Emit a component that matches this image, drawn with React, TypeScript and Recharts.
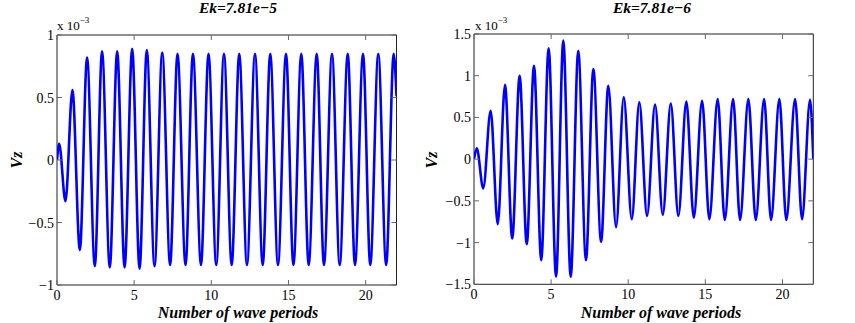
import { LineChart, Line, XAxis, YAxis, ReferenceArea } from 'recharts';

// extrema (units of 1e-3), start and end points included
const leftX = [
  0, 0.14, 0.55, 1.0, 1.48, 1.95, 2.45, 2.92, 3.42, 3.9, 4.38, 4.87, 5.35, 5.82, 6.32,
  6.82, 7.33, 7.81, 8.33, 8.81, 9.33, 9.82, 10.32, 10.82, 11.32, 11.81, 12.31, 12.83,
  13.33, 13.82, 14.32, 14.84, 15.32, 15.83, 16.31, 16.83, 17.3, 17.82, 18.32, 18.84,
  19.31, 19.83, 20.3, 20.82, 21.33, 21.82, 22,
];
const leftVz = [
  0, 0.13, -0.33, 0.56, -0.72, 0.82, -0.85, 0.87, -0.86, 0.87, -0.86, 0.89, -0.87, 0.88,
  -0.85, 0.86, -0.84, 0.85, -0.84, 0.85, -0.84, 0.85, -0.84, 0.85, -0.84, 0.85, -0.84,
  0.85, -0.84, 0.85, -0.84, 0.85, -0.84, 0.85, -0.84, 0.85, -0.84, 0.85, -0.84, 0.85,
  -0.84, 0.85, -0.84, 0.85, -0.84, 0.85, 0.51,
];

const rightX = [
  0, 0.18, 0.6, 1.08, 1.54, 2.01, 2.48, 2.96, 3.42, 3.89, 4.36, 4.84, 5.32, 5.79, 6.27,
  6.76, 7.26, 7.74, 8.24, 8.71, 9.21, 9.71, 10.23, 10.72, 11.22, 11.74, 12.24, 12.76,
  13.25, 13.77, 14.25, 14.79, 15.26, 15.8, 16.26, 16.8, 17.25, 17.79, 18.27, 18.81,
  19.26, 19.8, 20.25, 20.82, 21.27, 21.79, 22,
];
const rightVz = [
  0, 0.13, -0.35, 0.58, -0.78, 0.89, -0.95, 1.0, -1.02, 1.12, -1.21, 1.33, -1.41, 1.42,
  -1.41, 1.3, -1.21, 1.08, -0.99, 0.88, -0.815, 0.74, -0.72, 0.68, -0.68, 0.655, -0.665,
  0.665, -0.68, 0.69, -0.7, 0.7, -0.72, 0.72, -0.73, 0.72, -0.73, 0.72, -0.73, 0.72,
  -0.73, 0.72, -0.73, 0.72, -0.72, 0.71, 0.0,
];

const xTicks = [0, 5, 10, 15, 20];
const leftYTicks = [-1, -0.5, 0, 0.5, 1];
const rightYTicks = [-1.5, -1, -0.5, 0, 0.5, 1, 1.5];

const leftTitle = 'Ek=7.81e\u22125';
const rightTitle = 'Ek=7.81e\u22126';
const xLabel = 'Number of wave periods';
const yLabel = 'Vz';

const W = 430;
const H = 323;
const SERIF = 'Liberation Serif, Times New Roman, DejaVu Serif, serif';
const txt = { fontFamily: SERIF };
const bi = { fontFamily: SERIF, fontWeight: 'bold' as const, fontStyle: 'italic' as const, fontSize: 15.5 };
const biLabel = { ...bi, fontSize: 16 };

const fmt = (v: number) => (v < 0 ? '\u2212' + Math.abs(v) : String(v));

type Box = { top: number; right: number; bottom: number; left: number };

function Panel({ xs, vs, yTicks, b }: { xs: number[]; vs: number[]; yTicks: number[]; b: Box }) {
  const data = xs.map((x, i) => ({ x, vz: vs[i] }));
  const plotL = b.left;
  const plotR = W - b.right;
  const plotT = b.top;
  const plotB = H - b.bottom;
  const yMin = yTicks[0];
  const yMax = yTicks[yTicks.length - 1];

  const xTick = (p: any) => (
    <g>
      <line x1={p.x} x2={p.x} y1={plotB} y2={plotB - 5} stroke="#666" />
      <line x1={p.x} x2={p.x} y1={plotT} y2={plotT + 5} stroke="#666" />
      <text x={p.x} y={plotB + 15} textAnchor="middle" style={{ ...txt, fontSize: 14 }} fill="#000">
        {fmt(p.payload.value)}
      </text>
    </g>
  );
  const yTick = (p: any) => (
    <g>
      <line x1={plotL} x2={plotL + 5} y1={p.y} y2={p.y} stroke="#666" />
      <line x1={plotR} x2={plotR - 5} y1={p.y} y2={p.y} stroke="#666" />
      <text x={plotL - 3} y={p.y + 5} textAnchor="end" style={{ ...txt, fontSize: 14 }} fill="#000">
        {fmt(p.payload.value)}
      </text>
    </g>
  );

  return (
    <LineChart width={W} height={H} data={data} margin={{ top: b.top, right: b.right, bottom: 0, left: 0 }}>
      <XAxis
        dataKey="x"
        type="number"
        domain={[0, 22]}
        ticks={xTicks}
        allowDataOverflow
        height={b.bottom}
        axisLine={false}
        tickLine={false}
        tick={xTick}
        interval={0}
      />
      <YAxis
        type="number"
        domain={[yMin, yMax]}
        ticks={yTicks}
        allowDataOverflow
        width={b.left}
        axisLine={false}
        tickLine={false}
        tick={yTick}
        interval={0}
      />
      <Line
        type="monotone"
        dataKey="vz"
        stroke="#0000ff"
        strokeWidth={2.6}
        dot={false}
        isAnimationActive={false}
      />
      <ReferenceArea x1={0} x2={22} y1={yMin} y2={yMax} fill="none" stroke="#222" strokeWidth={1} />
    </LineChart>
  );
}

export default function App() {
  return (
    <div style={{ position: 'absolute', left: 0, top: 0, width: 855, height: H, background: '#fff' }}>
      <div style={{ position: 'absolute', left: 0, top: 0 }}>
        <Panel xs={leftX} vs={leftVz} yTicks={leftYTicks} b={{ top: 35, right: 33.5, bottom: 38, left: 57 }} />
      </div>
      <div style={{ position: 'absolute', left: 430, top: 0 }}>
        <Panel xs={rightX} vs={rightVz} yTicks={rightYTicks} b={{ top: 34, right: 46.7, bottom: 38.7, left: 44 }} />
      </div>
      <svg width={855} height={H} style={{ position: 'absolute', left: 0, top: 0, pointerEvents: 'none' }}>
        <g fill="#000">
          <text x={238} y={13} textAnchor="middle" style={bi}>{leftTitle}</text>
          <text x={652} y={13} textAnchor="middle" style={bi}>{rightTitle}</text>
          <text x={57} y={30} style={{ ...txt, fontSize: 13 }}>
            x 10<tspan style={{ fontSize: 9 }} dy={-7}>{'\u22123'}</tspan>
          </text>
          <text x={475} y={30} style={{ ...txt, fontSize: 13 }}>
            x 10<tspan style={{ fontSize: 9 }} dy={-7}>{'\u22123'}</tspan>
          </text>
          <text x={238} y={318} textAnchor="middle" style={biLabel}>{xLabel}</text>
          <text x={661} y={318} textAnchor="middle" style={biLabel}>{xLabel}</text>
          <text x={0} y={0} transform="translate(22,160) rotate(-90)" textAnchor="middle" style={biLabel}>{yLabel}</text>
          <text x={0} y={0} transform="translate(437,160) rotate(-90)" textAnchor="middle" style={biLabel}>{yLabel}</text>
        </g>
      </svg>
    </div>
  );
}
